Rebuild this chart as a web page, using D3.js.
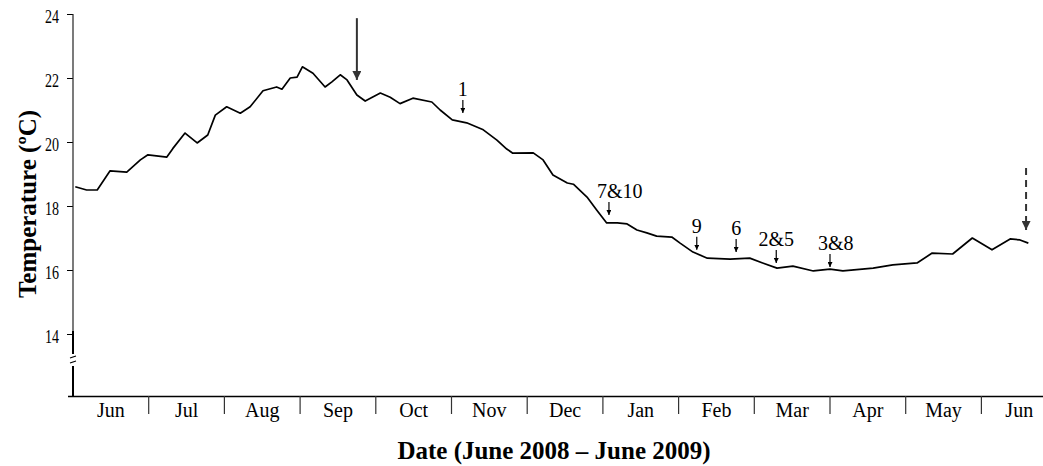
<!DOCTYPE html>
<html>
<head>
<meta charset="utf-8">
<script src="https://cdn.jsdelivr.net/npm/d3@7"></script>
<style>
  html, body { margin: 0; padding: 0; background: #fff; }
  svg text { font-family: "Liberation Serif", "Times New Roman", serif; fill: #000; }
</style>
</head>
<body>
<div id="chart"></div>
<script>
// Month categories along the x axis (equal-width bands)
const MONTHS = ['Jun', 'Jul', 'Aug', 'Sep', 'Oct', 'Nov', 'Dec', 'Jan', 'Feb', 'Mar', 'Apr', 'May', 'Jun'];
const Y_TICKS = [14, 16, 18, 20, 22, 24];

// Temperature trace: position in months since 1 June 2008, temperature in ºC
const MONTH_POS = [0.03, 0.18, 0.32, 0.49, 0.71, 0.89, 0.99, 1.24, 1.32, 1.48, 1.64, 1.78, 1.88,
  2.03, 2.21, 2.34, 2.51, 2.69, 2.76, 2.87, 2.96, 3.03, 3.17, 3.33, 3.42, 3.53, 3.62, 3.75, 3.86,
  4.06, 4.19, 4.32, 4.49, 4.74, 4.85, 5.01, 5.20, 5.42, 5.60, 5.73, 5.81, 6.08, 6.21, 6.34, 6.53,
  6.61, 6.79, 6.92, 7.05, 7.19, 7.32, 7.45, 7.58, 7.71, 7.91, 8.02, 8.19, 8.38, 8.68, 8.94, 9.11,
  9.30, 9.51, 9.78, 10.00, 10.17, 10.57, 10.83, 11.15, 11.35, 11.62, 11.88, 12.14, 12.38, 12.51, 12.62];
const TEMPS = [18.6, 18.5, 18.5, 19.1, 19.06, 19.44, 19.6, 19.53, 19.8, 20.28, 19.97, 20.22, 20.84,
  21.1, 20.9, 21.1, 21.6, 21.72, 21.65, 22.0, 22.03, 22.35, 22.15, 21.72, 21.88, 22.1, 21.94, 21.47, 21.28,
  21.53, 21.4, 21.2, 21.37, 21.25, 21.0, 20.69, 20.6, 20.38, 20.06, 19.78, 19.65, 19.66, 19.44, 18.97, 18.72,
  18.68, 18.28, 17.87, 17.47, 17.47, 17.44, 17.25, 17.16, 17.06, 17.03, 16.84, 16.56, 16.37, 16.34, 16.37, 16.22,
  16.06, 16.12, 15.97, 16.03, 15.97, 16.06, 16.16, 16.22, 16.53, 16.5, 17.0, 16.63, 16.97, 16.94, 16.84];

// Sampling-event annotations
const NOTE_LABELS = ['1', '7&10', '9', '6', '2&5', '3&8'];
const NOTE_POS = [5.15, 7.08, 8.24, 8.76, 9.29, 10.0];
const NOTE_TEMP = [20.91, 17.72, 16.63, 16.56, 16.22, 16.09];

// Large arrows: solid (start) and dashed (end)
const BIG_ARROW_POS = [3.75, 12.59];
const BIG_ARROW_FROM = [23.87, 19.19];
const BIG_ARROW_TO = [21.94, 17.25];

const W = 1043, H = 466;
const svg = d3.select('#chart').append('svg').attr('width', W).attr('height', H);

const x = d3.scaleLinear().domain([0, MONTHS.length]).range([73, 73 + 75.7 * MONTHS.length]);
const y = d3.scaleLinear().domain([12, 24]).range([398, 14]);

// markers
const defs = svg.append('defs');
defs.append('marker').attr('id', 'headS').attr('viewBox', '0 0 10 10')
  .attr('refX', 10).attr('refY', 5).attr('markerWidth', 5).attr('markerHeight', 5)
  .attr('markerUnits', 'userSpaceOnUse').attr('orient', 'auto')
  .append('path').attr('d', 'M0,0L10,5L0,10Z').attr('fill', '#000');
defs.append('marker').attr('id', 'headL').attr('viewBox', '0 0 10 10')
  .attr('refX', 10).attr('refY', 5).attr('markerWidth', 11).attr('markerHeight', 9)
  .attr('markerUnits', 'userSpaceOnUse').attr('orient', 'auto')
  .append('path').attr('d', 'M0,0L10,5L0,10Z').attr('fill', '#333');

// y axis (tick labels condensed like the original)
const yAxis = svg.append('g').attr('transform', `translate(${x(0)},0)`)
  .call(d3.axisLeft(y).tickValues(Y_TICKS).tickSize(6));
yAxis.select('.domain').remove();
yAxis.selectAll('text').style('font-size', '19px')
  .attr('x', -14 / 0.74).attr('dy', '0.45em').attr('transform', 'scale(0.74,1)');
yAxis.selectAll('line').attr('stroke', '#000');
const ax = x(0);
svg.append('line').attr('x1', ax).attr('x2', ax).attr('y1', y(24)).attr('y2', y(14) - 3)
  .attr('stroke', '#222').attr('stroke-width', 1.2);
svg.append('line').attr('x1', ax).attr('x2', ax).attr('y1', y(14) - 3).attr('y2', 354)
  .attr('stroke', '#000').attr('stroke-width', 2);
svg.append('line').attr('x1', ax).attr('x2', ax).attr('y1', 366).attr('y2', 396)
  .attr('stroke', '#000').attr('stroke-width', 2);
// axis break
svg.append('path').attr('d', `M${ax - 3},358 L${ax + 3},356 M${ax - 3},363 L${ax + 3},361`)
  .attr('stroke', '#000').attr('stroke-width', 1.2).attr('fill', 'none');

// x axis
svg.append('line').attr('x1', 68).attr('x2', W).attr('y1', 396.5).attr('y2', 396.5)
  .attr('stroke', '#000').attr('stroke-width', 1.5);
svg.append('g').selectAll('line').data(d3.range(1, MONTHS.length)).join('line')
  .attr('x1', d => x(d)).attr('x2', d => x(d)).attr('y1', 396).attr('y2', 414)
  .attr('stroke', '#333').attr('stroke-width', 1.2);
svg.append('g').selectAll('text').data(MONTHS).join('text')
  .attr('x', (d, i) => x(i + 0.5)).attr('y', 417).attr('text-anchor', 'middle')
  .style('font-size', '20px').text(d => d);

// titles
svg.append('text').attr('x', 554).attr('y', 459).attr('text-anchor', 'middle')
  .style('font-size', '25px').style('font-weight', 'bold').text('Date (June 2008 – June 2009)');
svg.append('text').attr('transform', 'translate(36,204) rotate(-90)').attr('text-anchor', 'middle')
  .style('font-size', '25px').style('font-weight', 'bold').text('Temperature (ºC)');

// temperature line
const pts = MONTH_POS.map((m, i) => [m, TEMPS[i]]);
svg.append('path').datum(pts)
  .attr('d', d3.line().x(d => x(d[0])).y(d => y(d[1])))
  .attr('fill', 'none').attr('stroke', '#000').attr('stroke-width', 1.7)
  .attr('stroke-linejoin', 'round');

// small event arrows
NOTE_LABELS.forEach((lab, i) => {
  const px = x(NOTE_POS[i]), tip = y(NOTE_TEMP[i]);
  svg.append('line').attr('x1', px).attr('x2', px).attr('y1', tip - 13).attr('y2', tip)
    .attr('stroke', '#000').attr('stroke-width', 1.2).attr('marker-end', 'url(#headS)');
  const wide = lab.length > 3 || lab === '3&8';
  svg.append('text').attr('x', wide ? px - 12 : px).attr('y', tip - 17)
    .attr('text-anchor', wide ? 'start' : 'middle').style('font-size', '20px').text(lab);
});

// big arrows
BIG_ARROW_POS.forEach((p, i) => {
  svg.append('line').attr('x1', x(p)).attr('x2', x(p))
    .attr('y1', y(BIG_ARROW_FROM[i])).attr('y2', y(BIG_ARROW_TO[i]))
    .attr('stroke', '#333').attr('stroke-width', 2)
    .attr('stroke-dasharray', i === 1 ? '7,5' : null)
    .attr('marker-end', 'url(#headL)');
});
</script>
</body>
</html>
